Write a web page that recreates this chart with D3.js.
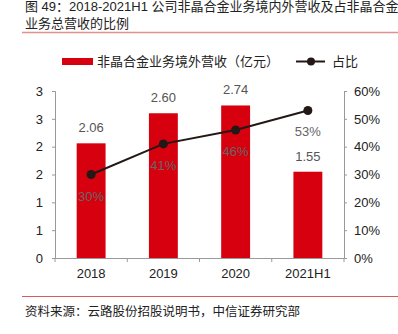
<!DOCTYPE html>
<html>
<head>
<meta charset="utf-8">
<script src="https://cdn.jsdelivr.net/npm/d3@7"></script>
<style>
  body { margin: 0; background: #fff; }
  svg { display: block; font-family: "Liberation Sans", "Noto Sans CJK SC", sans-serif; }
</style>
</head>
<body>
<svg width="398" height="334"></svg>
<script>
// categories and series
const years = ["2018", "2019", "2020", "2021H1"];
const revenue = [2.06, 2.60, 2.74, 1.55];      // 亿元
const share = [0.30, 0.41, 0.46, 0.53];
const leftTicks = [0, 0.5, 1, 1.5, 2, 2.5, 3];
const leftTickLabels = ["0", "1", "1", "2", "2", "3", "3"];
const rightTicks = [0, 0.1, 0.2, 0.3, 0.4, 0.5, 0.6];

const svg = d3.select('svg');
const cjk = '"Noto Sans CJK SC", sans-serif';

// title block
svg.append('text').attr('x', 25).attr('y', 10.5)
  .style('font-size', '13px').attr('fill', '#222')
  .text('图 49：2018-2021H1 公司非晶合金业务境内外营收及占非晶合金');
svg.append('text').attr('x', 25).attr('y', 28).style('font-family', cjk)
  .style('font-size', '13px').attr('fill', '#222')
  .text('业务总营收的比例');
svg.append('line').attr('x1', 22).attr('x2', 398).attr('y1', 32.5).attr('y2', 32.5)
  .attr('stroke', '#e38f8f').attr('stroke-width', 1.5);

// scales
const x = d3.scaleBand().domain(years).range([55, 344]);
const yL = d3.scaleLinear().domain([0, 3]).range([258, 91]);
const yR = d3.scaleLinear().domain([0, 0.6]).range([258, 91]);
const barW = x.bandwidth() * 0.4;

// axes
const axL = svg.append('g').attr('transform', 'translate(55,0)')
  .call(d3.axisLeft(yL).tickValues(leftTicks).tickSize(3).tickPadding(9)
    .tickFormat((d, i) => leftTickLabels[i]));
const axR = svg.append('g').attr('transform', 'translate(344,0)')
  .call(d3.axisRight(yR).tickValues(rightTicks).tickSize(3).tickPadding(7)
    .tickFormat(d3.format('.0%')));
const axB = svg.append('g').attr('transform', 'translate(0,258)')
  .call(d3.axisBottom(x).tickValues([]).tickSize(0));
// bottom tick marks sit on band edges
svg.append('g').selectAll('line').data(years.concat(['end'])).enter().append('line')
  .attr('x1', (d, i) => 55 + i * x.step()).attr('x2', (d, i) => 55 + i * x.step())
  .attr('y1', 258).attr('y2', 262).attr('stroke', '#999');
svg.append('g').selectAll('text').data(years).enter().append('text')
  .attr('x', d => x(d) + x.bandwidth() / 2).attr('y', 277.5)
  .attr('text-anchor', 'middle').style('font-size', '13px').attr('fill', '#222')
  .text(d => d);

[axL, axR, axB].forEach(a => {
  a.select('.domain').attr('stroke', '#999');
  a.selectAll('.tick line').attr('stroke', '#999');
  a.selectAll('.tick text').style('font-size', '13px').attr('fill', '#222');
});

// bars
svg.append('g').selectAll('rect').data(revenue).enter().append('rect')
  .attr('x', (d, i) => x(years[i]) + x.bandwidth() / 2 - barW / 2)
  .attr('y', d => yL(d)).attr('width', barW).attr('height', d => 258 - yL(d))
  .attr('fill', '#d7000f');
svg.append('g').selectAll('text').data(revenue).enter().append('text')
  .attr('x', (d, i) => x(years[i]) + x.bandwidth() / 2)
  .attr('y', d => yL(d) - 11).attr('text-anchor', 'middle')
  .style('font-size', '13px').attr('fill', '#555')
  .text(d => d.toFixed(2));

// share line
const cx = i => x(years[i]) + x.bandwidth() / 2;
const line = d3.line().x((d, i) => cx(i)).y(d => yR(d));
svg.append('path').datum(share).attr('d', line)
  .attr('fill', 'none').attr('stroke', '#231815').attr('stroke-width', 2);
svg.append('g').selectAll('circle').data(share).enter().append('circle')
  .attr('cx', (d, i) => cx(i)).attr('cy', d => yR(d)).attr('r', 4.5)
  .attr('fill', '#231815');
svg.append('g').selectAll('text').data(share).enter().append('text')
  .attr('x', (d, i) => cx(i)).attr('y', d => yR(d) + 26)
  .attr('text-anchor', 'middle').style('font-size', '13px').attr('fill', '#666')
  .text(d => Math.round(d * 100) + '%');

// legend
svg.append('rect').attr('x', 62).attr('y', 58).attr('width', 31).attr('height', 7)
  .attr('fill', '#d7000f');
svg.append('text').attr('x', 97).attr('y', 66).style('font-family', cjk)
  .style('font-size', '13px').attr('fill', '#222').text('非晶合金业务境外营收（亿元）');
svg.append('line').attr('x1', 296).attr('x2', 325).attr('y1', 61.5).attr('y2', 61.5)
  .attr('stroke', '#231815').attr('stroke-width', 2);
svg.append('circle').attr('cx', 311).attr('cy', 61.5).attr('r', 4).attr('fill', '#231815');
svg.append('text').attr('x', 332).attr('y', 66).style('font-family', cjk)
  .style('font-size', '13px').attr('fill', '#222').text('占比');

// source note
svg.append('line').attr('x1', 22).attr('x2', 398).attr('y1', 296.5).attr('y2', 296.5)
  .attr('stroke', '#d85a5a').attr('stroke-width', 1);
svg.append('text').attr('x', 25).attr('y', 316).style('font-family', cjk)
  .style('font-size', '12.5px').attr('fill', '#222')
  .text('资料来源：云路股份招股说明书，中信证券研究部');
</script>
</body>
</html>
